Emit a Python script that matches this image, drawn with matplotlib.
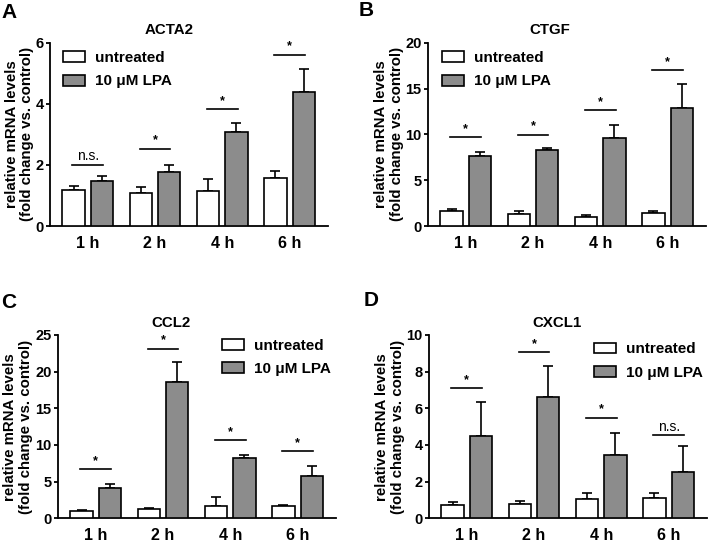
import numpy as np
import matplotlib
matplotlib.use('Agg')
import matplotlib.pyplot as plt

plt.rcParams['font.family'] = ['Liberation Sans', 'DejaVu Sans']
plt.rcParams['font.weight'] = 'bold'

# data
times = ['1 h', '2 h', '4 h', '6 h']
series_names = ['untreated', '10 \u03bcM LPA']

acta2_untreated = [1.18, 1.07, 1.15, 1.56]
acta2_untreated_err = [0.13, 0.21, 0.38, 0.25]
acta2_lpa = [1.48, 1.77, 3.07, 4.40]
acta2_lpa_err = [0.17, 0.22, 0.29, 0.73]
acta2_sig_y = [2.01, 2.53, 3.83, 5.61]
acta2_sig = ['n.s.', '*', '*', '*']

ctgf_untreated = [1.64, 1.35, 1.02, 1.38]
ctgf_untreated_err = [0.25, 0.32, 0.18, 0.26]
ctgf_lpa = [7.64, 8.25, 9.56, 12.84]
ctgf_lpa_err = [0.40, 0.22, 1.49, 2.61]
ctgf_sig_y = [9.67, 9.96, 12.65, 17.02]
ctgf_sig = ['*', '*', '*', '*']

ccl2_untreated = [1.04, 1.22, 1.71, 1.71]
ccl2_untreated_err = [0.13, 0.13, 1.13, 0.14]
ccl2_lpa = [4.19, 18.65, 8.24, 5.81]
ccl2_lpa_err = [0.54, 2.61, 0.41, 1.39]
ccl2_sig_y = [6.67, 23.15, 10.68, 9.19]
ccl2_sig = ['*', '*', '*', '*']

cxcl1_untreated = [0.71, 0.78, 1.05, 1.11]
cxcl1_untreated_err = [0.20, 0.17, 0.33, 0.27]
cxcl1_lpa = [4.51, 6.60, 3.47, 2.51]
cxcl1_lpa_err = [1.82, 1.69, 1.20, 1.42]
cxcl1_sig_y = [7.09, 9.05, 5.49, 4.53]
cxcl1_sig = ['*', '*', '*', 'n.s.']

fig = plt.figure(figsize=(7.09, 5.42), dpi=100)

W, H = 709.0, 542.0

def make_axes(left, right, top, bottom):
    return fig.add_axes([left / W, 1 - bottom / H, (right - left) / W, (bottom - top) / H])

def panel(ax, title, title_x, letter, letter_xy, unt, unt_err, lpa, lpa_err,
          sig_y, sig, ymax, ystep, legend_xy, ylabel_x):
    x = np.arange(len(times))
    w = 0.33
    off = 0.21
    ax.bar(x - off, unt, w, color='white', edgecolor='black', linewidth=1.2,
           label=series_names[0], zorder=3)
    ax.bar(x + off, lpa, w, color='#8c8c8c', edgecolor='black', linewidth=1.2,
           label=series_names[1], zorder=3)
    ax.errorbar(x - off, unt, yerr=[np.zeros(len(unt)), unt_err], fmt='none',
                ecolor='black', elinewidth=1.2, capsize=3.3, capthick=1.2, zorder=2)
    ax.errorbar(x + off, lpa, yerr=[np.zeros(len(lpa)), lpa_err], fmt='none',
                ecolor='black', elinewidth=1.2, capsize=3.3, capthick=1.2, zorder=2)

    for xi, yi, s in zip(x, sig_y, sig):
        ax.plot([xi - off - 0.02, xi + off + 0.02], [yi, yi], color='black', lw=1.2,
                clip_on=False)
        if s == '*':
            ax.annotate(s, (xi, yi), xytext=(0, 1.5), textcoords='offset points',
                        ha='center', va='bottom', fontsize=9, fontweight='bold')
        else:
            ax.annotate(s, (xi, yi), xytext=(0, 1), textcoords='offset points',
                        ha='center', va='bottom', fontsize=10, fontweight='normal')

    ax.set_xlim(-0.56, 3.57)
    ax.set_ylim(0, ymax)
    ax.set_yticks(np.arange(0, ymax + ystep / 2, ystep))
    ax.set_xticks(x)
    ax.set_xticklabels(times, fontsize=11.5, fontweight='bold')
    ax.tick_params(axis='x', length=0, pad=7)
    ax.tick_params(axis='y', length=3, width=1.3, pad=1.5, labelsize=10.5)
    for lab in ax.get_yticklabels():
        lab.set_fontweight('bold')
    for side in ['top', 'right']:
        ax.spines[side].set_visible(False)
    for side in ['left', 'bottom']:
        ax.spines[side].set_linewidth(1.3)

    ax.text(title_x, 1.068, title, transform=ax.transAxes, ha='center', va='center',
            fontsize=10.8, fontweight='bold')
    ax.text(ylabel_x, 0.5, 'relative mRNA levels\n(fold change vs. control)',
            transform=ax.transAxes, rotation=90, ha='center', va='center',
            fontsize=10.8, fontweight='bold', linespacing=1.15)
    fig.text(letter_xy[0] / W, 1 - letter_xy[1] / H, letter, ha='center', va='center',
             fontsize=15, fontweight='bold')

    ax.legend(loc='upper left', bbox_to_anchor=legend_xy, frameon=False,
              fontsize=11, handlelength=1.45, handleheight=0.72, handletextpad=0.65,
              labelspacing=0.62, borderpad=0, borderaxespad=0,
              prop={'weight': 'bold', 'size': 11})


axA = make_axes(50, 328, 42.7, 226)
axB = make_axes(428, 706, 42.7, 226)
axC = make_axes(58, 336, 335, 518.3)
axD = make_axes(429, 707, 335, 518.3)

panel(axA, 'ACTA2', 0.43, 'A', (9, 13), acta2_untreated, acta2_untreated_err,
      acta2_lpa, acta2_lpa_err, acta2_sig_y, acta2_sig, 6, 2, (0.047, 0.955), -0.11)
panel(axB, 'CTGF', 0.437, 'B', (366, 11), ctgf_untreated, ctgf_untreated_err,
      ctgf_lpa, ctgf_lpa_err, ctgf_sig_y, ctgf_sig, 20, 5, (0.05, 0.955), -0.14)
panel(axC, 'CCL2', 0.406, 'C', (9, 303), ccl2_untreated, ccl2_untreated_err,
      ccl2_lpa, ccl2_lpa_err, ccl2_sig_y, ccl2_sig, 25, 5, (0.589, 0.98), -0.145)
panel(axD, 'CXCL1', 0.459, 'D', (371, 301), cxcl1_untreated, cxcl1_untreated_err,
      cxcl1_lpa, cxcl1_lpa_err, cxcl1_sig_y, cxcl1_sig, 10, 2, (0.594, 0.96), -0.14)

fig.savefig('out.png', dpi=100)
